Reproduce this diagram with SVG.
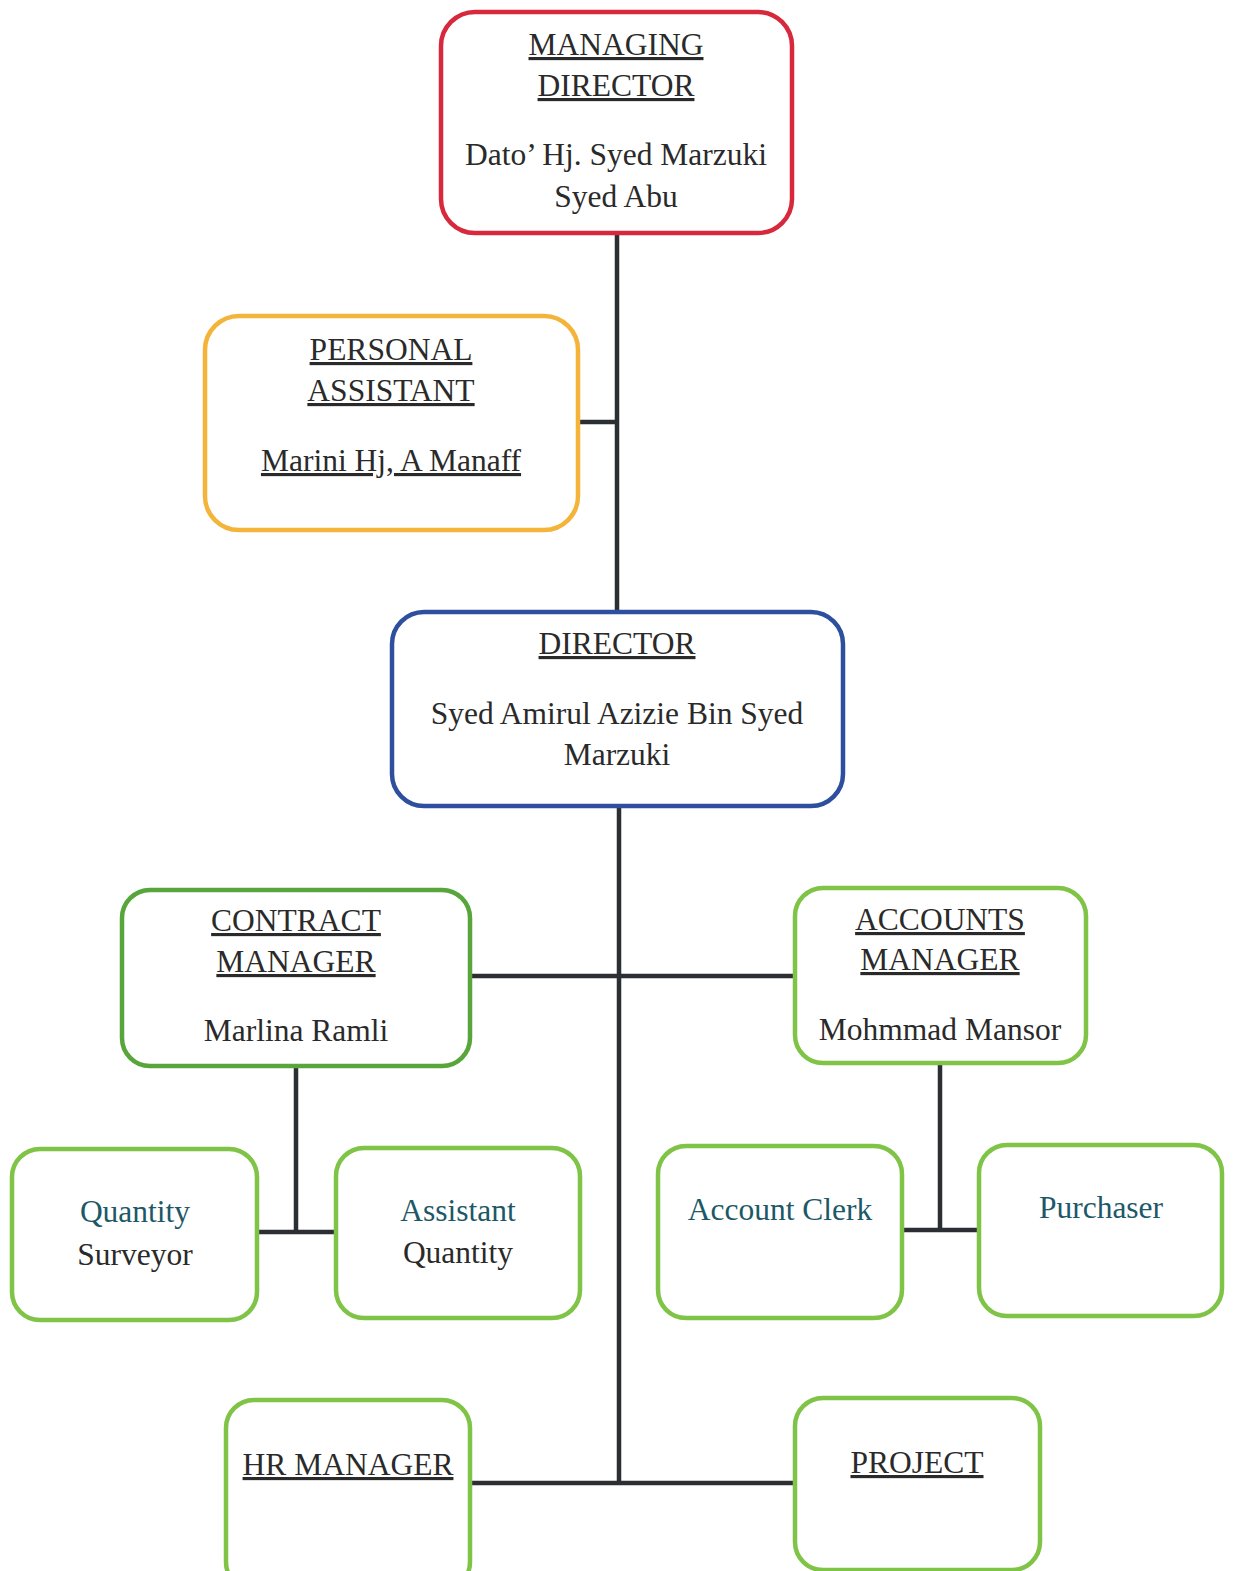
<svg xmlns="http://www.w3.org/2000/svg" width="1233" height="1571" viewBox="0 0 1233 1571">
<style>
.box{fill:#fff;stroke-width:4.5}
.red{stroke:#d8283c}.org{stroke:#f4b43a}.blu{stroke:#2d4f9e}.dg{stroke:#58a53c}.lg{stroke:#80c447}
text{font-family:"Liberation Serif","Times New Roman",serif;font-size:31.5px;fill:#2a2a2a;text-anchor:middle}
.u{text-decoration:underline;text-decoration-thickness:1.5px;text-underline-offset:4px}
.t{fill:#1d5868}
.c{stroke:#2b2f33;stroke-width:4.5;fill:none}
</style>
<rect width="1233" height="1571" fill="#fff"/>
<g id="connectors">
<line class="c" x1="617" y1="233" x2="617" y2="612"/>
<line class="c" x1="578" y1="422" x2="617" y2="422"/>
<line class="c" x1="619" y1="806" x2="619" y2="1483"/>
<line class="c" x1="470" y1="976" x2="795" y2="976"/>
<line class="c" x1="296" y1="1066" x2="296" y2="1232"/>
<line class="c" x1="257" y1="1232" x2="336" y2="1232"/>
<line class="c" x1="940" y1="1063" x2="940" y2="1230"/>
<line class="c" x1="902" y1="1230" x2="979" y2="1230"/>
<line class="c" x1="470" y1="1483" x2="795" y2="1483"/>
</g>
<g id="managing-director">
<rect class="box red" x="441" y="12" width="351" height="221" rx="34"/>
<text x="616" y="55" class="u">MANAGING</text>
<text x="616" y="96" class="u">DIRECTOR</text>
<text x="616" y="165">Dato’ Hj. Syed Marzuki</text>
<text x="616" y="207">Syed Abu</text>
</g>
<g id="personal-assistant">
<rect class="box org" x="205" y="316" width="373" height="214" rx="34"/>
<text x="391" y="360" class="u">PERSONAL</text>
<text x="391" y="401" class="u">ASSISTANT</text>
<text x="391" y="471" class="u">Marini Hj, A Manaff</text>
</g>
<g id="director">
<rect class="box blu" x="392" y="612" width="451" height="194" rx="32"/>
<text x="617" y="654" class="u">DIRECTOR</text>
<text x="617" y="724">Syed Amirul Azizie Bin Syed</text>
<text x="617" y="765">Marzuki</text>
</g>
<g id="contract-manager">
<rect class="box dg" x="122" y="890" width="348" height="176" rx="28"/>
<text x="296" y="931" class="u">CONTRACT</text>
<text x="296" y="972" class="u">MANAGER</text>
<text x="296" y="1041">Marlina Ramli</text>
</g>
<g id="accounts-manager">
<rect class="box lg" x="795" y="888" width="291" height="175" rx="28"/>
<text x="940" y="930" class="u">ACCOUNTS</text>
<text x="940" y="970" class="u">MANAGER</text>
<text x="940" y="1040">Mohmmad Mansor</text>
</g>
<g id="quantity-surveyor">
<rect class="box lg" x="12" y="1149" width="245" height="171" rx="28"/>
<text x="135" y="1222" class="t">Quantity</text>
<text x="135" y="1265">Surveyor</text>
</g>
<g id="assistant-quantity">
<rect class="box lg" x="336" y="1148" width="244" height="170" rx="28"/>
<text x="458" y="1221" class="t">Assistant</text>
<text x="458" y="1263">Quantity</text>
</g>
<g id="account-clerk">
<rect class="box lg" x="658" y="1146" width="244" height="172" rx="28"/>
<text x="780" y="1220" class="t">Account Clerk</text>
</g>
<g id="purchaser">
<rect class="box lg" x="979" y="1145" width="243" height="171" rx="28"/>
<text x="1101" y="1218" class="t">Purchaser</text>
</g>
<g id="hr-manager">
<rect class="box lg" x="226" y="1400" width="244" height="190" rx="28"/>
<text x="348" y="1475" class="u">HR MANAGER</text>
</g>
<g id="project">
<rect class="box lg" x="795" y="1398" width="245" height="172" rx="28"/>
<text x="917" y="1473" class="u">PROJECT</text>
</g>
</svg>
